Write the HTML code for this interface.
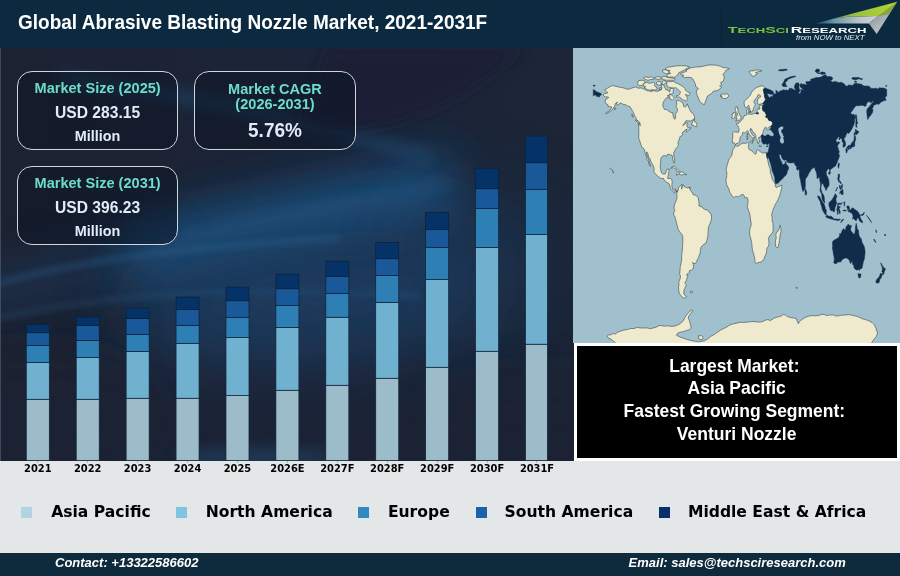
<!DOCTYPE html>
<html lang="en">
<head>
<meta charset="utf-8">
<title>Global Abrasive Blasting Nozzle Market, 2021-2031F</title>
<style>
html,body{margin:0;padding:0;background:#e3e7e8;}
body{width:900px;height:576px;overflow:hidden;position:relative;font-family:"Liberation Sans",Arial,sans-serif;}
#root{will-change:transform;position:absolute;left:0;top:0;width:900px;height:576px;overflow:hidden;background:#e3e7e8;}
#hdr{position:absolute;left:0;top:0;width:900px;height:48.5px;background:#0c2a3f;}
#title{position:absolute;left:18.0px;top:11.6px;font-size:19.0px;line-height:22px;font-weight:bold;color:#fff;white-space:nowrap;transform:scaleY(1.04);transform-origin:0 78.6%;}
#chart{position:absolute;left:0;top:48.3px;width:573.9px;height:412.3px;background:#1c2335;overflow:hidden;}
#chart svg{position:absolute;left:0;top:-48.3px;}
.box{position:absolute;box-sizing:border-box;border:1.35px solid #cdd5dd;border-radius:15px;background:rgba(12,20,36,0.5);text-align:center;font-weight:bold;white-space:nowrap;}
.box .t{color:#6ddcc8;font-size:14.55px;line-height:16px;transform:scaleY(1.04);transform-origin:50% 80%;position:absolute;left:0;right:0;}
.box .v{color:#e2ecf8;font-size:15.6px;transform:scaleY(1.06);transform-origin:50% 78%;line-height:18px;position:absolute;left:0;right:0;}
.box .m{color:#e2ecf8;font-size:14.4px;transform:scaleY(1.04);transform-origin:50% 78%;line-height:16px;position:absolute;left:0;right:0;}
#map{position:absolute;left:572.8px;top:48.3px;width:327.2px;height:295.2px;background:#a0c0cd;overflow:hidden;}
#map svg{position:absolute;left:-572.8px;top:-48.3px;}
#kbox{position:absolute;left:573.9px;top:342.9px;width:326.1px;height:118px;background:#fff;}
#kin{position:absolute;left:3.1px;top:3.1px;width:320.15px;height:111.8px;background:#000;color:#fff;font-weight:bold;font-size:17.5px;line-height:22.75px;text-align:center;white-space:nowrap;}
#kin div{position:absolute;left:-5.4px;right:0;margin-top:-1px;transform:scaleY(1.04);transform-origin:50% 75.4%;}
.xl{position:absolute;top:462.6px;width:60px;text-align:center;font-family:"DejaVu Sans",Verdana,sans-serif;font-weight:bold;font-size:9.9px;line-height:12px;color:#000;white-space:nowrap;}
.tk{position:absolute;top:460.8px;width:0.9px;height:2px;background:#aab3b8;}
.lsq{position:absolute;top:507px;width:11.0px;height:11.0px;}
.ltx{position:absolute;top:502.9px;font-family:"DejaVu Sans",Verdana,sans-serif;font-weight:bold;font-size:15.58px;line-height:18px;color:#000;white-space:nowrap;}
#ftr{position:absolute;left:0;top:552.6px;width:900px;height:23.4px;background:#0e2a3d;color:#fff;font-weight:bold;font-style:italic;font-size:13.0px;line-height:15px;white-space:nowrap;}
#ftr div{position:absolute;top:2.1px;transform:scaleY(1.04);transform-origin:0 78.7%;}
</style>
</head>
<body>
<div id="root">
  <div id="hdr">
    <div id="title">Global Abrasive Blasting Nozzle Market, 2021-2031F</div>
    <div style="position:absolute;left:720.6px;top:5px;width:1px;height:40px;background:rgba(4,14,24,0.3)"></div>
    <svg id="logo" width="200" height="48.5" viewBox="700 0 200 48.5" style="position:absolute;left:700px;top:0">
      <defs>
        <linearGradient id="lg1" gradientUnits="userSpaceOnUse" x1="816" y1="0" x2="878" y2="0"><stop offset="0" stop-color="#2f6a86" stop-opacity="0.6"/><stop offset="0.3" stop-color="#6d97aa"/><stop offset="0.7" stop-color="#b9c4c9"/><stop offset="1" stop-color="#d3d6d6"/></linearGradient>
        <linearGradient id="lg2" gradientUnits="userSpaceOnUse" x1="831" y1="0" x2="897" y2="0"><stop offset="0" stop-color="#5f9a6a" stop-opacity="0.8"/><stop offset="0.3" stop-color="#93bf45"/><stop offset="0.7" stop-color="#a9cb39"/><stop offset="1" stop-color="#b2d235"/></linearGradient>
        <linearGradient id="lg3" gradientUnits="userSpaceOnUse" x1="872" y1="14" x2="884" y2="32"><stop offset="0" stop-color="#8e989e"/><stop offset="1" stop-color="#c3c7c9"/></linearGradient>
      </defs>
      <polygon points="815.6,23.4 833.3,18.7 847.8,16.7 877.8,16.1 868.9,23.4" fill="url(#lg1)"/>
      <polygon points="831,19.3 897.2,1.7 888.9,13.3 877.8,16.1 847.8,16.7" fill="url(#lg2)"/>
      <polygon points="868.9,23.4 877.8,16.1 888.9,13.3 897.2,1.7 876.7,33.9" fill="url(#lg3)"/>
      <polygon points="877.8,16.1 897.2,1.7 888.3,14.2" fill="#89a63b"/>
      <g font-family="'Liberation Sans',Arial,sans-serif" font-weight="bold">
        <text transform="translate(727.8,32.5) scale(1.66,1)" fill="#7ec242"><tspan font-size="9.6">T</tspan><tspan font-size="7.9">ECH</tspan><tspan font-size="9.6">S</tspan><tspan font-size="7.9">CI</tspan></text>
        <text transform="translate(790.8,32.5) scale(1.66,1)" fill="#ffffff"><tspan font-size="9.6">R</tspan><tspan font-size="7.9">ESEARCH</tspan></text>
      </g>
      <text x="796" y="39.6" font-family="'Liberation Sans',Arial,sans-serif" font-style="italic" font-size="7.3" fill="#e8eef2" textLength="68.5" lengthAdjust="spacingAndGlyphs">from NOW to NEXT</text>
    </svg>
  </div>

  <div id="chart">
    <svg width="574" height="461" viewBox="0 0 574 461">
      <defs>
        <filter id="b40" filterUnits="userSpaceOnUse" x="-300" y="-300" width="1200" height="1100"><feGaussianBlur stdDeviation="38"/></filter>
        <filter id="b22" filterUnits="userSpaceOnUse" x="-300" y="-300" width="1200" height="1100"><feGaussianBlur stdDeviation="22"/></filter>
        <filter id="b8" filterUnits="userSpaceOnUse" x="-300" y="-300" width="1200" height="1100"><feGaussianBlur stdDeviation="7"/></filter>
        <filter id="b3" filterUnits="userSpaceOnUse" x="-300" y="-300" width="1200" height="1100"><feGaussianBlur stdDeviation="3"/></filter>
        <linearGradient id="bdk" x1="0" y1="0" x2="0" y2="1"><stop offset="0" stop-color="#1b2234" stop-opacity="0"/><stop offset="0.45" stop-color="#1b2234" stop-opacity="0.6"/><stop offset="1" stop-color="#1b2234" stop-opacity="0.75"/></linearGradient><linearGradient id="bgl" x1="0" y1="0" x2="1" y2="0"><stop offset="0" stop-color="#1c2232"/><stop offset="0.55" stop-color="#1b2438"/><stop offset="1" stop-color="#1c2637"/></linearGradient>
      </defs>
      <rect x="0" y="48" width="574" height="413" fill="url(#bgl)"/>
      <g>
        <path d="M130 258 C 230 236, 340 212, 455 186" fill="none" stroke="#1c4b76" stroke-width="66" opacity="1" filter="url(#b22)"/><path d="M-40 296 C 40 280, 100 266, 170 250" fill="none" stroke="#1e4166" stroke-width="34" opacity="0.55" filter="url(#b22)"/>
        <ellipse cx="315" cy="296" rx="190" ry="62" transform="rotate(-6 315 296)" fill="#1d4166" opacity="0.85" filter="url(#b40)"/>
        <ellipse cx="480" cy="250" rx="70" ry="60" fill="#1d385a" opacity="0.45" filter="url(#b40)"/>
        <path d="M60 78 C 180 93, 300 118, 430 158" fill="none" stroke="#245580" stroke-width="11" opacity="0.5" filter="url(#b8)"/>
        <path d="M-10 286 C 90 256, 210 246, 340 238" fill="none" stroke="#2c6c98" stroke-width="3.5" opacity="0.55" filter="url(#b3)"/>
        <path d="M-10 320 C 110 292, 250 286, 420 296" fill="none" stroke="#2a648e" stroke-width="3.5" opacity="0.4" filter="url(#b3)"/>
        <path d="M180 238 C 280 214, 380 196, 450 184" fill="none" stroke="#2a6a98" stroke-width="5" opacity="0.4" filter="url(#b8)"/>
        <path d="M330 48 L 522 48 C 480 88, 425 120, 365 128 C 350 130, 338 128, 300 124 Z" fill="#1b1d34" opacity="0.75" filter="url(#b8)"/>
        <ellipse cx="540" cy="430" rx="130" ry="50" fill="#1b2133" opacity="0.9" filter="url(#b22)"/>
        <ellipse cx="40" cy="420" rx="120" ry="65" fill="#1b2133" opacity="0.9" filter="url(#b22)"/>
        <rect x="-20" y="352" width="620" height="130" fill="url(#bdk)"/><ellipse cx="255" cy="457" rx="80" ry="9" fill="#21486c" opacity="0.6" filter="url(#b8)"/>
      </g>
      <rect x="0" y="48" width="0.9" height="413" fill="#4a5364" opacity="0.9"/>
      <g shape-rendering="auto">
      <rect x="26.30" y="399.25" width="23.0" height="61.35" fill="#9cbcc9" stroke="#0e2238" stroke-width="0.7"/><rect x="26.30" y="362.50" width="23.0" height="36.75" fill="#70b1d0" stroke="#0e2238" stroke-width="0.7"/><rect x="26.30" y="345.50" width="23.0" height="17.00" fill="#2e80b4" stroke="#0e2238" stroke-width="0.7"/><rect x="26.30" y="332.75" width="23.0" height="12.75" fill="#19599a" stroke="#0e2238" stroke-width="0.7"/><rect x="26.30" y="324.60" width="23.0" height="8.15" fill="#053267" stroke="#0e2238" stroke-width="0.7"/><rect x="76.22" y="399.25" width="23.0" height="61.35" fill="#9cbcc9" stroke="#0e2238" stroke-width="0.7"/><rect x="76.22" y="357.50" width="23.0" height="41.75" fill="#70b1d0" stroke="#0e2238" stroke-width="0.7"/><rect x="76.22" y="340.50" width="23.0" height="17.00" fill="#2e80b4" stroke="#0e2238" stroke-width="0.7"/><rect x="76.22" y="325.50" width="23.0" height="15.00" fill="#19599a" stroke="#0e2238" stroke-width="0.7"/><rect x="76.22" y="317.00" width="23.0" height="8.50" fill="#053267" stroke="#0e2238" stroke-width="0.7"/><rect x="126.14" y="398.25" width="23.0" height="62.35" fill="#9cbcc9" stroke="#0e2238" stroke-width="0.7"/><rect x="126.14" y="351.40" width="23.0" height="46.85" fill="#70b1d0" stroke="#0e2238" stroke-width="0.7"/><rect x="126.14" y="334.50" width="23.0" height="16.90" fill="#2e80b4" stroke="#0e2238" stroke-width="0.7"/><rect x="126.14" y="318.50" width="23.0" height="16.00" fill="#19599a" stroke="#0e2238" stroke-width="0.7"/><rect x="126.14" y="308.00" width="23.0" height="10.50" fill="#053267" stroke="#0e2238" stroke-width="0.7"/><rect x="176.06" y="398.25" width="23.0" height="62.35" fill="#9cbcc9" stroke="#0e2238" stroke-width="0.7"/><rect x="176.06" y="343.30" width="23.0" height="54.95" fill="#70b1d0" stroke="#0e2238" stroke-width="0.7"/><rect x="176.06" y="325.50" width="23.0" height="17.80" fill="#2e80b4" stroke="#0e2238" stroke-width="0.7"/><rect x="176.06" y="309.50" width="23.0" height="16.00" fill="#19599a" stroke="#0e2238" stroke-width="0.7"/><rect x="176.06" y="297.00" width="23.0" height="12.50" fill="#053267" stroke="#0e2238" stroke-width="0.7"/><rect x="225.98" y="395.50" width="23.0" height="65.10" fill="#9cbcc9" stroke="#0e2238" stroke-width="0.7"/><rect x="225.98" y="337.50" width="23.0" height="58.00" fill="#70b1d0" stroke="#0e2238" stroke-width="0.7"/><rect x="225.98" y="317.50" width="23.0" height="20.00" fill="#2e80b4" stroke="#0e2238" stroke-width="0.7"/><rect x="225.98" y="300.75" width="23.0" height="16.75" fill="#19599a" stroke="#0e2238" stroke-width="0.7"/><rect x="225.98" y="287.00" width="23.0" height="13.75" fill="#053267" stroke="#0e2238" stroke-width="0.7"/><rect x="275.90" y="390.25" width="23.0" height="70.35" fill="#9cbcc9" stroke="#0e2238" stroke-width="0.7"/><rect x="275.90" y="327.40" width="23.0" height="62.85" fill="#70b1d0" stroke="#0e2238" stroke-width="0.7"/><rect x="275.90" y="305.50" width="23.0" height="21.90" fill="#2e80b4" stroke="#0e2238" stroke-width="0.7"/><rect x="275.90" y="288.75" width="23.0" height="16.75" fill="#19599a" stroke="#0e2238" stroke-width="0.7"/><rect x="275.90" y="274.00" width="23.0" height="14.75" fill="#053267" stroke="#0e2238" stroke-width="0.7"/><rect x="325.82" y="385.25" width="23.0" height="75.35" fill="#9cbcc9" stroke="#0e2238" stroke-width="0.7"/><rect x="325.82" y="317.25" width="23.0" height="68.00" fill="#70b1d0" stroke="#0e2238" stroke-width="0.7"/><rect x="325.82" y="293.50" width="23.0" height="23.75" fill="#2e80b4" stroke="#0e2238" stroke-width="0.7"/><rect x="325.82" y="276.50" width="23.0" height="17.00" fill="#19599a" stroke="#0e2238" stroke-width="0.7"/><rect x="325.82" y="261.25" width="23.0" height="15.25" fill="#053267" stroke="#0e2238" stroke-width="0.7"/><rect x="375.74" y="378.25" width="23.0" height="82.35" fill="#9cbcc9" stroke="#0e2238" stroke-width="0.7"/><rect x="375.74" y="302.50" width="23.0" height="75.75" fill="#70b1d0" stroke="#0e2238" stroke-width="0.7"/><rect x="375.74" y="275.50" width="23.0" height="27.00" fill="#2e80b4" stroke="#0e2238" stroke-width="0.7"/><rect x="375.74" y="258.75" width="23.0" height="16.75" fill="#19599a" stroke="#0e2238" stroke-width="0.7"/><rect x="375.74" y="242.50" width="23.0" height="16.25" fill="#053267" stroke="#0e2238" stroke-width="0.7"/><rect x="425.66" y="367.25" width="23.0" height="93.35" fill="#9cbcc9" stroke="#0e2238" stroke-width="0.7"/><rect x="425.66" y="279.50" width="23.0" height="87.75" fill="#70b1d0" stroke="#0e2238" stroke-width="0.7"/><rect x="425.66" y="247.40" width="23.0" height="32.10" fill="#2e80b4" stroke="#0e2238" stroke-width="0.7"/><rect x="425.66" y="229.50" width="23.0" height="17.90" fill="#19599a" stroke="#0e2238" stroke-width="0.7"/><rect x="425.66" y="212.30" width="23.0" height="17.20" fill="#053267" stroke="#0e2238" stroke-width="0.7"/><rect x="475.58" y="351.25" width="23.0" height="109.35" fill="#9cbcc9" stroke="#0e2238" stroke-width="0.7"/><rect x="475.58" y="247.40" width="23.0" height="103.85" fill="#70b1d0" stroke="#0e2238" stroke-width="0.7"/><rect x="475.58" y="208.40" width="23.0" height="39.00" fill="#2e80b4" stroke="#0e2238" stroke-width="0.7"/><rect x="475.58" y="188.75" width="23.0" height="19.65" fill="#19599a" stroke="#0e2238" stroke-width="0.7"/><rect x="475.58" y="168.25" width="23.0" height="20.50" fill="#053267" stroke="#0e2238" stroke-width="0.7"/><rect x="525.50" y="344.20" width="21.9" height="116.40" fill="#9cbcc9" stroke="#0e2238" stroke-width="0.7"/><rect x="525.50" y="234.40" width="21.9" height="109.80" fill="#70b1d0" stroke="#0e2238" stroke-width="0.7"/><rect x="525.50" y="189.50" width="21.9" height="44.90" fill="#2e80b4" stroke="#0e2238" stroke-width="0.7"/><rect x="525.50" y="162.75" width="21.9" height="26.75" fill="#19599a" stroke="#0e2238" stroke-width="0.7"/><rect x="525.50" y="136.00" width="21.9" height="26.75" fill="#053267" stroke="#0e2238" stroke-width="0.7"/>
      </g>
    </svg>
    <div class="box" style="left:16.8px;top:22.6px;width:161.6px;height:79px;">
      <div class="t" style="top:8.2px">Market Size (2025)</div>
      <div class="v" style="top:32.3px">USD 283.15</div>
      <div class="m" style="top:56px">Million</div>
    </div>
    <div class="box" style="left:193.8px;top:22.6px;width:162.4px;height:79px;">
      <div class="t" style="top:8.7px">Market CAGR</div>
      <div class="t" style="top:24.6px">(2026-2031)</div>
      <div class="v" style="top:48.6px;font-size:19px;line-height:22px">5.76%</div>
    </div>
    <div class="box" style="left:16.8px;top:117.6px;width:161.6px;height:79px;">
      <div class="t" style="top:8.2px">Market Size (2031)</div>
      <div class="v" style="top:32.3px">USD 396.23</div>
      <div class="m" style="top:56px">Million</div>
    </div>
  </div>

  <div id="map">
    <svg width="900" height="576" viewBox="0 0 900 576"><path d="M603.0 95.1L604.3 93.6L606.3 93.4L607.9 92.7L606.3 91.4L604.7 90.2L607.1 88.5L609.6 86.9L612.4 85.5L616.1 86.4L619.4 87.2L622.6 87.7L625.1 88.4L628.3 89.4L630.8 88.5L634.0 87.4L635.7 86.9L638.1 88.2L641.4 88.0L644.6 89.4L647.1 90.6L650.3 91.1L652.0 91.9L652.0 90.1L655.2 91.1L657.7 91.4L660.1 90.2L660.9 88.5L662.1 87.7L661.3 85.2L663.0 84.4L664.2 86.0L665.0 88.2L666.2 90.1L667.4 89.4L668.3 91.1L669.9 91.9L670.3 88.5L672.7 88.2L673.7 89.9L672.9 91.9L673.6 92.7L671.5 93.9L669.5 93.9L669.1 95.6L667.4 95.6L668.7 97.3L666.6 97.8L664.6 100.0L663.4 102.0L662.8 104.5L663.0 106.7L664.6 109.5L666.6 109.5L668.7 111.2L670.7 112.4L672.7 112.5L673.2 116.2L674.0 118.7L675.0 119.1L675.8 117.1L675.4 114.2L677.2 111.7L677.5 108.7L676.0 106.5L676.8 104.1L676.4 100.6L678.5 100.6L680.5 101.1L682.1 102.8L683.2 103.6L683.5 106.2L685.0 107.3L686.2 106.2L687.3 103.8L688.6 107.0L689.9 110.0L691.1 112.0L693.1 113.7L694.5 116.2L694.6 117.9L693.5 118.9L691.9 120.7L689.9 121.1L687.8 120.7L685.8 120.9L684.6 122.9L682.9 125.8L684.6 123.8L687.0 122.6L687.6 123.8L686.6 125.1L687.3 126.8L688.2 128.0L689.9 128.1L691.1 127.6L690.7 128.8L688.2 130.3L686.6 132.2L686.2 130.5L687.4 129.0L685.8 129.5L685.2 130.3L683.8 131.3L682.8 132.0L682.3 133.5L682.8 135.0L681.7 135.7L679.8 136.7L679.6 138.4L678.9 140.0L678.3 141.7L677.9 143.2L678.4 145.4L677.4 146.9L676.0 148.4L674.8 150.6L673.8 152.6L673.6 154.8L674.3 157.8L674.7 160.7L674.5 162.8L673.8 162.7L673.2 160.3L672.5 158.5L672.6 156.5L671.5 154.8L670.3 155.1L669.1 154.1L667.6 154.3L667.0 156.1L665.8 156.0L664.2 155.3L662.6 156.1L660.9 158.1L660.6 161.5L660.3 165.7L660.3 168.2L660.8 170.7L661.6 172.9L662.6 173.9L663.8 174.2L665.2 173.9L666.1 172.4L666.3 169.9L667.9 169.0L669.1 169.0L668.8 171.6L668.5 174.1L668.0 175.8L667.6 178.4L668.7 178.6L670.3 178.4L671.9 179.6L672.1 182.5L671.8 185.8L672.1 187.8L672.9 189.7L674.0 190.3L675.0 189.2L676.0 189.3L676.9 190.5L676.9 192.4L676.2 191.3L675.2 190.2L674.5 191.3L674.6 192.9L673.6 192.4L672.5 191.3L671.8 190.2L670.5 188.7L670.1 186.7L669.1 184.1L668.4 183.0L667.0 182.5L665.6 181.6L664.3 180.1L663.4 178.3L662.1 178.6L660.9 178.4L659.5 177.4L658.1 176.6L656.8 175.1L655.5 173.9L654.2 172.4L653.9 170.6L654.2 168.7L653.4 166.2L652.2 163.8L650.9 161.8L650.5 159.8L649.5 158.1L648.5 156.5L648.0 154.0L647.2 152.3L646.4 151.9L646.5 154.3L647.6 156.8L648.3 159.0L649.2 161.5L649.9 164.0L650.7 166.2L650.2 166.4L648.9 164.0L648.5 161.5L646.9 159.3L646.6 156.8L645.6 154.5L644.8 151.8L644.4 149.8L643.4 148.1L641.8 147.2L640.7 144.2L640.1 141.9L639.1 139.2L638.7 137.2L638.8 134.7L638.8 131.3L638.9 127.6L638.3 124.1L639.7 124.3L640.2 125.8L640.0 122.9L638.5 121.2L636.5 119.6L635.8 117.4L634.4 115.4L633.8 113.2L632.6 111.2L631.2 108.7L629.9 106.5L627.9 106.2L626.0 104.8L623.8 104.5L621.8 103.6L620.2 102.8L618.9 104.5L617.3 105.3L616.5 103.1L617.7 102.3L615.8 103.1L614.9 105.3L614.2 107.0L612.6 109.0L611.0 110.9L609.2 112.0L607.4 113.0L605.7 113.7L607.1 112.0L609.2 110.9L610.8 109.2L611.8 107.0L610.4 106.7L608.1 106.5L607.8 104.5L605.9 103.6L605.1 102.0L605.7 99.4L607.5 98.6L608.8 97.4L607.1 96.8L605.1 96.9L603.9 95.8ZM680.5 73.8L683.8 75.5L682.1 76.3L684.6 77.6L687.8 77.3L691.1 77.6L692.7 78.8L693.9 81.0L695.2 83.5L695.6 86.4L697.6 87.7L698.4 89.1L696.4 90.2L696.4 92.7L697.2 95.3L698.4 98.1L699.6 101.1L700.9 102.8L702.9 104.1L704.4 104.6L704.9 103.6L705.4 101.1L706.6 98.9L707.4 96.1L709.4 94.8L711.5 93.6L713.5 91.1L717.2 90.6L719.2 89.4L721.7 87.4L719.6 86.0L721.7 84.4L720.4 82.7L723.3 81.0L724.1 78.5L724.1 76.0L722.9 74.3L725.3 71.8L725.7 70.4L729.4 68.8L727.0 67.9L722.9 67.6L720.4 66.2L715.5 65.1L709.0 64.9L703.3 66.2L699.2 66.9L695.2 67.1L691.1 67.8L688.6 68.9L685.8 70.1L687.0 70.9L684.6 72.1L681.3 73.0ZM676.9 190.5L677.5 191.7L678.4 189.2L678.7 187.2L679.7 186.3L680.9 185.3L681.6 184.3L682.0 185.8L681.5 187.5L681.7 189.2L682.5 186.0L683.1 184.6L684.2 186.7L685.8 187.3L687.4 188.0L689.0 187.2L689.9 188.7L690.5 190.7L691.7 191.7L692.7 193.7L693.5 195.0L695.2 195.0L696.4 195.7L697.6 197.1L698.3 198.1L698.8 201.7L699.2 204.3L698.8 205.9L700.5 205.9L700.9 206.8L702.5 207.1L703.7 209.0L704.5 209.3L706.2 210.0L707.4 209.8L708.6 211.5L709.8 213.1L711.2 214.0L711.6 217.2L711.3 220.2L710.2 222.9L709.4 225.2L708.4 226.9L708.2 230.3L708.0 234.4L707.6 237.8L706.7 240.7L705.9 243.2L704.5 243.7L703.3 245.0L702.1 245.9L700.9 247.5L700.4 250.4L700.2 253.1L699.2 255.4L698.4 257.9L697.4 259.6L696.5 261.8L695.3 263.5L693.9 263.5L692.5 262.3L693.4 264.6L693.5 266.6L692.9 269.2L691.5 270.2L689.5 270.5L689.2 273.2L688.0 274.2L687.0 273.7L687.0 275.9L688.0 276.5L686.8 278.0L686.6 280.6L685.1 281.9L685.0 283.4L686.4 284.8L685.4 286.9L684.6 288.9L683.8 290.3L684.2 292.8L683.3 293.1L684.2 294.0L685.0 295.7L686.6 296.8L685.8 297.7L684.2 298.2L682.5 297.3L681.3 296.0L680.1 294.5L679.1 292.6L678.7 289.8L678.5 286.4L679.3 283.9L678.5 283.1L679.4 280.6L680.2 278.6L680.5 275.5L679.7 274.7L679.9 271.8L680.2 268.8L680.1 267.5L680.7 265.1L681.3 262.1L681.7 259.6L681.6 256.2L681.9 253.7L682.2 251.2L682.5 247.9L682.6 244.5L682.9 241.2L682.8 237.8L682.6 235.8L681.8 234.3L680.5 232.8L678.9 230.8L677.9 228.6L677.6 226.9L677.1 225.2L676.6 223.2L676.0 220.7L675.2 218.0L674.8 216.3L673.8 215.2L673.7 212.6L674.5 211.0L674.9 209.6L674.1 208.8L674.1 206.8L674.6 205.1L674.8 203.4L675.7 202.6L676.0 200.7L676.8 199.2L677.0 196.7L676.8 194.2L676.9 192.4ZM735.2 145.1L736.3 146.1L738.0 146.1L739.2 145.6L740.4 144.4L742.4 143.2L744.5 143.4L746.1 143.1L748.0 142.5L749.0 143.1L748.4 144.4L748.7 146.4L748.3 147.7L749.0 149.3L750.2 150.1L751.8 150.6L752.6 151.8L754.3 153.4L755.5 154.3L756.3 153.1L756.5 150.9L757.5 149.9L758.7 150.4L760.4 151.8L762.0 152.4L763.6 153.3L764.9 152.3L766.1 152.6L766.4 154.0L766.6 155.0L766.7 157.3L767.4 159.0L768.0 161.5L768.5 164.0L769.0 166.0L770.0 168.2L770.3 170.2L770.4 173.2L771.2 174.6L772.0 178.3L772.6 179.9L773.8 181.6L774.8 183.3L775.3 184.5L775.2 185.8L776.1 187.5L777.5 187.0L779.1 186.3L780.8 185.6L781.8 185.1L781.7 187.5L781.2 190.0L780.4 193.4L779.5 196.2L778.3 198.9L777.1 201.4L775.9 203.4L774.6 205.9L773.8 208.1L773.0 209.6L772.6 211.3L772.0 213.1L771.6 215.5L772.2 217.2L772.0 219.4L772.4 221.9L773.0 223.2L773.0 226.1L773.2 229.4L772.9 231.9L771.8 233.6L770.2 235.0L768.9 237.3L768.4 238.6L768.9 241.2L768.9 244.5L768.1 246.7L766.8 248.2L766.7 250.4L766.4 253.2L765.5 255.1L764.7 257.1L763.6 259.6L762.4 261.1L761.0 262.1L759.6 262.3L757.9 262.5L756.3 263.5L755.1 262.6L754.8 260.1L754.7 258.3L754.0 255.7L753.5 253.2L752.5 250.4L752.1 247.0L751.8 243.3L751.2 240.3L750.2 236.6L749.6 234.4L749.6 231.6L750.2 227.7L751.1 225.7L751.2 223.2L750.6 220.2L750.2 216.8L749.9 214.8L749.4 212.6L748.3 210.1L747.3 207.3L747.6 205.1L747.9 203.1L748.0 200.4L747.7 198.6L747.1 197.4L745.9 197.7L744.9 197.9L744.1 195.7L743.3 194.5L742.0 194.5L741.0 195.0L740.0 195.7L738.8 196.7L737.7 196.7L736.7 196.4L735.5 196.5L733.9 197.7L732.7 196.7L731.4 194.7L730.6 193.5L729.6 192.0L729.2 190.0L728.6 188.3L727.8 187.0L726.5 184.5L726.3 182.5L725.8 180.4L726.5 178.3L726.7 175.8L726.9 173.2L726.4 170.7L726.1 169.4L726.7 167.4L727.1 165.2L727.9 163.2L728.3 161.0L729.4 158.6L730.6 157.3L731.8 155.6L732.1 153.6L732.4 150.9L733.5 148.9L734.5 147.7ZM780.2 225.2L780.9 228.6L781.1 231.6L780.4 233.6L779.9 237.0L779.5 240.3L778.9 244.0L778.3 247.0L776.9 247.9L775.9 246.7L775.4 243.3L775.5 240.8L776.2 238.3L775.9 234.4L776.5 232.3L777.9 231.4L779.0 229.4L779.5 227.2ZM765.1 88.0L763.2 86.0L761.0 85.9L758.7 86.7L756.3 87.7L754.3 89.4L752.6 90.7L751.4 92.7L750.2 95.3L748.8 96.9L747.3 98.6L745.7 99.8L744.2 101.1L744.1 103.3L744.5 105.8L745.3 107.5L746.5 107.7L747.7 106.3L748.6 105.3L749.1 106.5L749.5 108.2L750.2 110.0L750.4 112.0L751.6 112.2L752.1 111.0L753.2 110.3L753.6 108.3L753.9 106.7L755.1 105.5L755.2 104.1L754.0 102.8L754.3 100.6L755.3 99.1L756.7 97.8L757.5 96.1L758.1 94.8L759.6 94.8L760.7 95.8L760.4 96.9L759.2 98.1L757.6 99.4L757.4 101.5L757.5 103.1L758.6 104.5L760.4 104.1L762.0 103.6L762.7 103.6L764.0 102.0L765.7 99.6L764.6 96.9L764.3 94.4L763.8 91.9L763.3 89.4ZM762.8 105.3L761.6 105.2L760.0 105.3L759.2 106.0L759.2 107.2L759.9 107.5L759.8 109.0L758.9 109.5L758.3 108.3L757.5 108.8L757.1 110.3L757.1 112.0L756.3 113.2L755.7 113.9L755.1 113.2L753.9 113.4L752.2 114.4L751.2 114.4L750.2 113.9L749.0 114.5L748.2 113.9L748.0 112.9L748.6 111.4L748.8 109.5L748.4 108.5L746.9 109.3L746.6 111.2L746.7 112.9L747.1 114.5L746.5 115.2L745.3 115.4L744.1 115.7L743.5 117.6L742.9 118.9L741.6 119.6L741.3 120.4L740.2 121.8L739.0 122.1L738.7 123.4L737.6 123.3L736.2 123.8L736.5 124.9L737.8 125.6L738.5 127.1L739.0 128.8L738.9 131.3L738.5 132.3L737.1 132.2L735.5 132.0L733.9 131.8L732.5 132.8L732.8 135.0L732.8 137.5L732.3 140.0L732.7 143.1L733.9 142.7L734.8 143.4L735.4 144.7L736.3 143.6L738.0 143.4L738.8 142.4L739.6 141.0L740.2 140.0L739.8 138.9L740.4 136.8L741.6 135.8L742.6 134.8L742.4 132.7L743.5 132.2L744.5 132.7L745.5 132.7L746.4 131.6L747.3 130.6L748.3 131.5L748.6 133.2L749.6 134.7L750.4 135.8L751.4 136.7L752.4 137.9L752.9 138.9L753.2 140.0L752.8 141.4L753.5 140.9L753.9 139.7L753.5 138.5L753.9 137.2L754.7 138.0L755.1 137.7L754.5 136.7L753.0 135.3L753.0 134.8L752.2 134.7L751.4 133.5L751.0 132.0L750.2 131.0L750.0 129.1L751.1 128.5L751.2 129.6L751.8 129.3L752.4 130.8L753.0 132.2L754.3 133.0L755.2 134.3L755.8 135.2L755.9 136.8L756.1 138.4L756.9 139.7L757.3 140.9L757.3 142.0L757.8 143.4L758.3 143.7L758.7 142.4L758.9 141.4L759.6 141.7L759.6 140.9L758.7 139.4L758.6 137.5L759.4 138.0L759.8 136.8L760.8 136.5L761.2 136.8L761.4 135.2L762.8 134.7L762.6 133.5L763.2 132.0L763.5 130.1L764.2 129.1L764.7 128.0L765.7 127.0L766.5 127.8L767.3 128.0L766.6 129.0L767.3 130.3L768.5 129.8L769.8 129.1L768.7 128.3L768.5 127.6L769.3 126.8L770.2 126.3L771.2 126.1L772.4 124.8L772.6 122.1L771.4 121.4L770.2 120.6L768.9 120.4L768.0 118.7L767.7 117.4L766.1 117.6L765.7 116.2L766.6 115.2L765.4 112.9L764.9 111.5L763.2 111.0L762.5 109.0L762.4 107.5ZM735.8 121.2L737.1 120.7L738.8 120.1L740.4 119.9L741.1 119.2L740.7 118.6L741.4 116.7L740.2 116.2L740.0 115.0L739.0 113.5L738.5 111.9L737.8 111.2L738.4 108.7L737.1 108.3L737.4 106.8L735.9 106.8L735.1 108.7L735.5 110.9L736.1 112.0L736.0 113.2L737.3 113.2L737.6 115.2L736.5 115.7L736.6 117.1L735.8 118.2L737.4 118.9L736.3 119.6L735.8 121.2ZM731.8 118.2L733.5 118.6L734.9 117.6L735.1 115.4L735.4 113.5L734.7 112.5L733.5 112.5L733.1 113.9L731.8 114.2L732.3 115.9L731.8 118.2ZM720.2 95.3L722.1 93.7L723.7 94.4L725.3 94.1L727.0 93.6L728.0 94.3L728.8 96.1L727.8 97.3L724.9 98.8L722.9 98.1L721.6 97.9L722.1 96.6L720.4 96.3L721.8 95.8ZM750.2 141.4L752.6 141.0L752.4 143.6L750.6 142.5ZM746.8 136.3L747.8 136.3L747.8 139.4L746.9 139.7ZM747.0 134.0L747.7 133.0L747.7 135.5L747.2 135.3ZM759.2 145.6L761.4 146.1L760.2 146.6L759.2 146.1ZM749.0 71.8L751.0 74.3L752.2 76.0L754.3 76.5L755.5 74.6L757.5 73.8L755.5 72.6L757.9 71.8L762.0 70.8L759.6 70.1L756.3 69.9L753.0 70.9L750.6 70.9ZM749.0 111.9L750.3 111.2L750.1 112.5L749.1 112.5ZM670.8 168.4L671.9 166.9L673.2 166.2L674.4 166.4L675.6 167.4L676.8 168.5L678.2 169.9L679.5 171.2L678.5 171.7L676.8 171.7L676.6 170.6L675.8 169.0L674.4 168.4L673.2 167.5L671.9 168.0ZM679.3 174.2L680.2 171.9L681.6 171.9L682.9 172.1L684.2 173.7L683.3 174.4L682.1 174.6L681.6 175.4L680.5 174.6ZM676.2 174.2L677.8 174.6L677.3 175.2L676.3 174.9ZM685.2 174.1L686.4 174.2L686.4 174.9L685.2 174.9ZM691.7 125.1L693.1 125.3L694.8 126.3L696.5 126.8L697.0 125.3L696.5 123.6L696.0 122.1L694.5 121.6L694.3 119.9L694.8 118.6L693.7 119.6L693.0 121.2L692.3 122.9L691.7 124.1ZM635.4 120.1L636.9 120.4L638.1 121.2L639.2 123.3L639.4 123.9L638.3 123.6L637.3 122.4L635.8 120.9ZM631.6 114.4L632.6 114.5L633.0 117.4L632.1 116.2ZM614.1 108.7L615.8 107.8L615.7 109.0L614.5 109.8ZM687.3 99.4L685.8 101.1L684.6 100.3L682.5 99.8L680.9 98.1L679.3 96.9L676.8 97.3L676.2 95.8L678.5 95.3L679.7 94.1L680.5 91.9L678.9 90.2L676.8 88.5L675.6 87.7L673.2 88.0L670.7 87.7L668.7 87.2L667.0 86.0L666.6 83.9L667.0 82.3L669.1 81.3L670.7 81.7L672.7 81.3L674.4 82.0L676.0 83.0L678.0 83.5L680.1 84.9L682.1 86.0L683.8 87.2L685.0 88.5L685.4 90.2L687.8 91.9L689.5 92.7L689.9 93.9L688.6 95.6L687.0 94.9L685.4 94.4L686.6 96.4L687.4 98.3ZM644.4 87.9L646.3 88.9L647.9 89.9L650.3 90.1L652.8 89.7L654.8 90.1L656.8 89.4L657.3 88.0L655.6 86.9L654.4 85.5L654.8 83.5L653.2 82.2L651.1 83.0L648.7 83.2L646.7 82.3L644.2 83.0L643.2 84.7L643.8 86.0L645.8 86.9L644.2 87.2ZM637.7 84.4L639.7 85.7L642.2 85.4L643.8 83.9L645.4 82.2L644.2 80.7L641.4 80.2L638.5 80.7L637.7 82.7ZM666.6 76.8L669.1 77.0L672.3 77.0L674.8 77.3L676.4 76.0L678.0 74.3L678.9 72.6L681.3 71.6L684.6 69.8L687.0 68.4L689.5 67.1L686.2 65.9L681.3 65.7L676.4 65.9L671.5 66.7L666.6 67.6L665.0 68.9L667.4 70.1L669.9 70.4L669.1 71.8L670.7 73.5L668.3 74.0L667.0 75.5ZM661.7 78.8L664.2 79.8L667.4 80.2L670.7 80.2L674.0 80.2L675.2 79.3L674.4 78.2L671.5 78.0L668.3 77.6L665.4 76.6L662.1 76.8ZM662.6 71.8L665.8 73.8L669.1 73.1L668.7 71.3L665.8 69.8L662.6 70.1ZM644.6 79.0L647.9 80.3L650.7 79.5L653.6 79.3L653.8 77.8L651.6 76.8L648.7 77.6L645.4 76.8L643.8 77.6ZM655.2 78.8L659.3 79.5L660.9 78.5L660.1 76.8L656.8 76.8L654.8 77.6ZM656.4 84.4L658.5 84.9L660.9 85.2L661.3 83.2L660.1 81.3L657.7 81.7L656.4 82.7ZM662.1 84.4L663.8 84.4L666.2 82.7L665.8 81.0L663.4 80.8L662.1 81.8ZM669.1 98.6L670.7 99.1L672.3 100.3L674.0 98.6L674.5 98.1L673.6 96.9L671.9 95.3L670.3 94.4L669.1 95.6L669.9 97.3ZM658.9 89.4L660.9 90.1L662.1 89.1L660.9 87.7L659.3 88.0ZM690.3 291.5L691.9 291.1L692.9 291.6L691.9 292.8L690.5 292.6ZM612.8 171.2L613.6 172.1L613.2 173.2L612.8 172.2ZM611.0 168.9L611.4 169.2L611.2 169.5ZM612.3 169.9L612.8 170.2L612.5 170.6ZM609.8 167.9L610.1 168.0L610.0 168.4ZM796.1 287.3L797.3 287.6L797.1 288.4L796.2 288.3ZM689.6 187.2L690.3 187.2L690.3 188.2L689.6 188.2ZM607.1 336.2L608.3 335.1L611.2 334.7L612.8 333.6L615.3 333.9L617.7 332.2L620.2 331.2L623.4 330.2L627.5 329.5L630.8 328.5L634.0 328.5L637.3 327.4L640.5 328.0L643.8 328.0L647.1 327.9L650.3 328.7L653.6 327.9L656.8 326.9L658.5 325.8L660.9 325.5L664.2 326.2L667.4 325.8L670.7 326.3L674.0 326.2L676.4 325.5L678.4 324.7L680.5 323.3L682.5 321.7L684.2 319.1L685.1 317.1L686.6 314.9L688.2 312.9L689.9 311.3L691.5 310.1L692.7 310.4L691.9 312.1L690.3 313.8L689.0 315.8L688.2 318.0L689.2 320.1L689.9 322.5L690.7 325.5L691.1 328.0L689.5 329.7L687.4 330.2L683.8 331.5L680.5 332.2L678.0 332.9L676.4 335.2L679.7 336.9L683.8 338.3L688.6 339.9L692.9 340.9L698.4 341.8L704.1 340.9L708.2 338.6L710.7 336.4L712.7 335.4L715.5 333.6L718.0 331.9L720.4 330.2L723.7 328.5L726.1 327.4L728.6 325.8L731.0 324.5L733.5 323.8L736.7 323.2L740.0 322.2L743.3 322.5L746.5 322.2L749.8 321.8L753.0 321.5L756.3 321.8L759.6 322.2L762.8 321.5L765.3 320.3L767.7 319.5L770.2 320.5L772.2 319.6L774.2 318.0L777.5 317.1L780.8 316.3L783.2 314.6L785.7 315.1L787.3 316.6L790.5 317.5L793.8 318.0L796.2 318.5L797.1 320.8L798.3 323.7L799.5 321.7L801.1 320.1L803.6 318.5L806.0 317.1L808.5 316.3L811.7 315.6L815.0 315.8L818.3 315.6L821.5 314.4L824.0 314.4L826.4 315.6L829.7 315.1L832.9 314.8L836.2 316.1L839.5 315.6L842.7 315.1L846.0 314.9L849.2 314.6L852.5 315.4L855.8 316.1L859.0 317.1L862.3 318.8L865.5 319.6L868.8 320.8L872.1 322.5L874.5 325.0L876.1 328.4L877.5 333.4L876.1 336.7L873.7 339.6L871.2 343.5L870.4 356.0L617.7 356.0L616.1 343.5L611.2 339.3L607.9 337.6ZM698.4 335.9L701.7 335.6L703.1 337.6L701.7 339.8L698.7 338.9Z" fill="#efe9cd" stroke="#2a3a40" stroke-width="0.55" stroke-linejoin="round"/><path d="M765.1 88.0L766.9 88.7L769.3 89.4L771.4 90.6L773.2 91.6L773.6 93.4L772.6 94.3L771.2 94.4L768.9 93.7L767.1 93.2L767.3 94.4L768.4 96.1L768.4 97.1L770.2 97.8L770.8 96.3L772.4 96.9L773.0 94.8L774.2 93.7L775.9 94.1L776.1 92.2L775.7 90.4L777.5 91.1L777.9 92.9L779.1 91.6L781.2 90.7L783.6 89.7L785.2 90.2L786.9 89.9L788.5 90.6L789.5 88.2L791.8 88.5L793.0 89.2L794.6 89.9L796.0 89.7L794.6 88.2L794.5 86.0L795.8 83.2L798.3 82.7L799.3 84.4L798.9 86.5L799.2 89.1L800.2 90.2L798.7 92.7L798.3 93.7L800.3 93.2L801.1 91.6L800.6 89.7L802.4 89.6L803.6 91.6L803.2 89.4L800.3 86.9L799.9 85.2L801.1 83.2L802.4 84.5L804.0 84.0L805.6 84.7L807.3 84.7L805.9 83.0L805.9 81.8L808.5 81.5L810.9 81.0L810.7 79.3L813.4 78.5L816.2 77.6L818.7 77.6L821.1 77.0L822.7 76.0L825.0 74.8L826.4 75.5L826.8 76.8L828.9 76.5L831.3 76.8L832.8 78.0L832.1 79.7L829.5 81.0L831.7 81.3L832.5 82.2L834.2 81.5L836.6 81.8L838.6 82.7L840.7 82.2L842.7 83.0L844.8 84.4L845.6 86.0L847.2 86.2L848.4 85.0L850.9 85.2L852.9 85.4L854.1 83.7L854.9 83.2L857.4 83.5L859.4 83.9L861.9 84.2L862.3 85.2L864.3 86.0L866.8 86.0L869.2 86.2L870.4 87.7L870.4 88.4L872.5 88.4L874.5 88.5L876.8 88.2L878.2 89.4L879.0 87.7L881.0 88.0L883.5 88.0L885.5 88.7L886.7 89.6L886.7 96.1L885.8 96.8L884.7 96.9L885.5 98.6L886.2 100.3L884.3 100.5L882.1 101.6L880.2 102.8L878.8 104.5L877.0 103.8L875.3 104.8L873.7 105.0L873.1 107.5L872.1 108.2L873.0 110.3L872.3 112.9L870.8 114.9L870.3 116.1L869.2 116.4L868.6 118.2L867.7 119.6L867.3 117.1L866.9 113.7L866.8 110.3L867.7 108.3L868.8 107.5L870.0 105.7L871.7 103.8L873.3 101.8L873.7 100.3L872.1 101.8L870.7 103.1L870.3 101.6L868.0 101.8L865.9 104.8L866.4 105.8L864.6 106.3L863.3 105.5L861.9 105.2L859.0 105.7L856.2 105.7L854.5 107.3L853.3 109.2L852.1 110.9L850.5 112.9L851.5 113.7L851.9 115.0L853.1 114.2L854.0 114.5L855.1 115.9L855.2 117.6L854.6 119.6L854.5 122.1L854.1 124.1L853.1 126.3L852.1 128.5L850.9 130.6L849.6 132.5L848.4 133.5L847.6 132.7L846.6 133.8L845.8 135.5L845.6 136.7L844.3 138.0L843.9 139.0L844.6 140.4L845.4 142.2L845.6 144.7L845.2 146.1L844.1 146.9L843.1 147.4L843.0 145.6L843.3 143.6L842.9 142.0L841.9 141.7L842.1 140.4L841.9 138.7L841.3 138.2L840.3 138.7L839.0 139.9L839.0 138.5L839.6 137.2L838.6 136.5L837.4 138.4L836.2 139.4L835.9 140.5L836.8 141.9L837.3 142.7L838.4 141.7L839.8 142.5L838.9 143.7L838.1 144.7L837.3 146.1L838.0 147.6L838.5 149.8L839.3 151.8L838.6 154.0L839.5 155.1L839.1 157.3L838.2 159.5L837.5 161.5L836.8 163.3L836.0 164.9L835.0 166.5L833.7 167.0L832.8 167.7L831.7 168.7L830.5 169.2L830.0 170.9L829.5 170.7L829.3 168.9L828.3 168.7L827.2 169.9L826.4 171.6L826.2 173.2L826.8 175.4L827.6 177.1L828.5 178.9L829.0 181.6L829.1 184.1L828.9 185.8L827.9 187.0L827.1 188.0L826.8 189.2L825.8 190.5L825.4 188.7L825.2 187.7L824.4 187.3L823.8 185.5L823.2 184.1L822.3 183.8L821.9 182.5L821.5 182.8L821.5 185.0L820.9 187.0L820.9 189.3L821.5 190.8L821.9 192.9L822.8 193.7L823.6 195.0L824.1 196.7L824.4 198.7L824.4 200.6L824.9 202.8L824.4 202.9L823.6 201.7L822.6 200.4L822.1 198.6L821.8 195.9L821.7 194.2L820.7 192.0L820.1 191.2L820.1 189.2L820.5 186.7L820.5 184.1L820.0 181.6L819.6 179.1L819.6 177.4L818.7 177.1L817.8 178.6L816.9 178.3L817.0 175.8L816.6 173.6L816.1 171.6L815.3 170.2L815.0 168.7L814.6 167.0L813.8 167.7L812.6 168.5L811.1 169.2L810.5 171.2L809.3 172.2L808.5 174.1L807.3 176.6L806.0 178.3L805.4 179.4L805.3 182.5L805.4 185.0L805.1 187.8L804.6 189.5L803.7 190.3L803.2 191.7L802.4 190.3L802.0 187.8L801.3 185.0L800.9 182.5L800.5 179.9L799.8 177.4L799.4 174.1L799.3 171.9L799.3 169.9L798.9 168.9L797.9 170.2L797.1 169.9L796.2 167.7L797.2 166.9L796.1 166.0L795.0 164.9L794.4 162.7L792.6 162.8L790.5 163.0L788.9 162.7L787.3 162.2L786.5 160.3L785.7 159.7L784.4 160.5L783.2 159.8L782.1 158.3L781.4 156.5L780.8 154.6L779.8 154.3L779.1 155.1L779.4 156.8L779.9 158.6L780.8 160.3L780.9 161.8L781.4 163.2L781.7 161.3L782.1 163.2L782.0 164.3L782.8 164.5L784.0 164.7L785.2 162.8L785.9 161.0L786.1 163.5L786.9 165.0L787.9 165.9L788.7 167.5L788.1 169.9L787.3 171.1L787.0 173.2L786.1 174.9L785.0 176.1L783.6 177.3L782.6 178.8L780.8 180.3L779.5 181.6L778.3 183.0L776.8 183.6L775.5 183.8L775.2 182.5L774.9 179.9L774.8 177.4L774.0 175.2L773.3 173.2L772.2 170.7L771.8 168.2L771.1 165.2L770.4 163.2L769.8 161.0L768.8 158.5L768.4 157.5L768.5 155.6L768.0 158.1L767.7 158.5L767.1 157.0L766.6 155.0L766.4 154.0L766.4 152.8L767.3 152.9L768.0 152.4L768.5 150.6L768.8 148.6L769.3 146.4L769.3 144.4L769.5 143.4L768.5 143.6L767.6 144.4L766.5 144.6L765.3 143.4L764.7 144.2L763.6 144.1L762.8 143.6L762.3 142.5L761.5 140.9L761.8 139.4L761.4 138.9L761.4 137.9L761.2 136.8L761.4 135.2L762.8 134.7L763.8 136.0L765.5 136.0L767.1 134.7L768.7 134.7L769.8 135.8L771.4 136.3L772.9 136.3L773.9 135.3L773.7 133.5L772.6 132.2L771.5 130.8L770.5 130.0L770.0 129.1L771.0 128.0L770.8 127.0L771.2 126.1L772.4 124.8L772.6 122.1L771.4 121.4L770.2 120.6L768.9 120.4L768.0 118.7L767.7 117.4L766.1 117.6L765.7 116.2L766.6 115.2L765.4 112.9L764.9 111.5L763.2 111.0L762.5 109.0L762.4 107.5L762.8 105.3L764.0 104.6L764.5 104.6L763.4 103.8L762.7 103.6L764.0 102.0L765.7 99.6L764.6 96.9L764.3 94.4L763.8 91.9L763.3 89.4ZM593.3 89.6L594.5 90.2L595.3 90.7L596.9 91.9L599.0 92.7L600.6 93.2L601.6 94.3L601.0 95.1L599.8 95.6L599.5 97.1L598.2 96.6L596.5 96.4L596.3 95.3L594.5 94.9L593.7 95.6L593.3 96.1ZM885.5 85.9L886.7 85.2L886.7 86.2L885.8 86.4ZM593.3 85.2L594.9 85.2L595.2 86.0L593.3 86.2ZM782.0 85.2L783.2 86.5L784.8 86.5L786.9 86.7L785.7 84.4L785.2 82.3L786.9 81.0L788.1 79.3L789.7 78.5L792.6 77.6L795.8 76.6L795.4 76.0L793.0 76.3L789.7 77.1L787.3 78.2L785.2 79.0L784.0 81.3L783.2 83.0L782.2 84.0ZM817.4 72.6L819.9 73.0L821.5 72.1L824.8 72.3L825.6 73.8L821.5 74.5L820.7 73.5L817.9 73.5L815.8 71.8L815.0 70.9L816.6 69.1L819.1 69.3L819.9 70.9ZM851.7 78.7L854.1 79.7L856.6 79.5L859.0 78.8L861.9 79.7L862.7 78.8L860.6 78.5L859.0 77.6L854.9 77.5L852.5 77.6ZM854.1 81.8L856.2 82.3L857.0 81.8L855.4 81.0ZM778.3 70.4L781.6 70.9L784.8 70.6L787.3 70.1L786.5 69.1L782.4 69.4L779.1 69.8ZM855.8 114.2L856.6 115.7L856.8 118.7L857.2 122.1L857.9 122.9L856.6 124.6L856.9 126.8L856.3 127.6L855.8 126.3L855.8 123.4L855.9 120.4L855.6 117.9L855.6 115.5ZM854.1 135.5L854.9 135.2L855.1 133.8L856.7 134.7L857.8 133.0L858.7 132.5L858.4 131.1L857.4 131.1L856.3 130.0L855.6 129.0L855.4 130.8L855.2 132.7L854.4 132.7L854.0 133.8ZM846.7 148.1L847.6 148.2L848.8 147.4L850.1 147.1L850.2 148.8L850.9 148.9L851.5 147.2L852.1 147.1L853.1 146.9L854.0 146.4L854.8 145.9L854.6 143.9L854.9 141.7L855.4 140.5L855.8 138.5L855.4 137.0L855.3 135.7L854.4 136.0L854.1 138.0L854.0 140.0L853.1 141.7L851.9 142.4L851.7 143.2L851.0 144.2L850.7 145.4L849.6 145.4L848.4 145.6L847.6 146.6L846.8 147.4ZM845.8 149.4L846.7 148.2L847.4 149.4L847.2 151.4L846.8 152.8L846.2 152.9L846.1 151.1L845.7 150.3ZM848.0 148.4L849.2 147.6L849.8 148.4L849.2 149.1L848.4 150.1L847.9 149.4ZM839.1 162.8L839.4 164.0L839.0 166.5L838.5 168.4L838.0 166.9L838.0 165.2L838.6 163.2ZM828.6 172.7L829.3 171.6L830.3 171.6L830.5 172.4L829.9 174.1L829.1 174.4L828.6 173.7ZM805.1 188.8L805.5 189.2L806.3 190.8L806.7 192.9L806.5 194.4L805.7 195.2L805.2 194.5L805.1 192.5L805.1 190.8ZM838.3 174.1L839.4 174.2L839.7 176.6L839.1 178.3L839.2 180.3L839.9 181.3L841.0 182.0L841.2 184.0L840.5 183.3L839.9 182.3L839.2 181.8L838.4 181.8L838.3 180.4L837.8 179.4L837.7 177.9L838.2 176.9L838.2 175.6ZM839.5 193.4L840.1 192.0L840.7 190.7L841.7 190.7L842.3 188.8L843.0 190.8L843.2 192.9L842.9 194.5L842.5 195.0L842.2 193.5L841.2 194.7L840.9 192.9L840.1 192.7L839.5 193.5ZM839.5 185.3L840.4 185.8L840.4 187.5L840.8 188.5L841.1 187.5L841.5 185.8L842.3 184.1L842.5 186.3L842.1 188.0L841.5 188.3L840.5 189.7L839.9 188.5L839.5 187.5L839.4 186.1ZM835.5 191.0L836.6 189.2L837.5 187.0L837.3 188.0L836.6 189.8L835.8 191.2ZM828.9 202.6L829.7 202.2L830.7 200.9L832.1 199.7L833.3 197.6L834.2 196.2L835.1 193.7L835.8 194.2L836.6 195.9L837.0 196.5L836.2 197.9L835.9 199.2L836.2 201.4L836.9 203.4L836.0 203.9L835.8 206.3L835.0 207.6L834.8 209.8L834.6 211.5L833.5 212.0L832.5 210.6L831.3 210.8L830.2 210.0L829.7 207.6L829.0 205.9L828.9 204.3ZM817.7 195.7L818.7 196.4L819.6 196.4L820.5 198.4L821.5 200.4L822.2 201.6L823.2 202.9L824.2 204.3L824.6 205.6L825.1 207.1L825.4 209.0L826.4 210.1L826.2 212.6L826.2 214.8L825.3 214.7L824.6 213.5L823.4 211.8L822.3 209.6L821.8 207.1L820.9 204.6L820.5 202.2L819.6 200.4L818.6 198.7L817.8 197.1ZM825.8 216.5L826.6 215.2L827.6 215.3L828.6 216.3L830.1 216.2L830.9 216.2L832.0 216.7L833.2 218.0L833.3 219.5L832.1 219.2L830.9 219.0L829.7 218.5L828.4 218.2L827.2 217.8L826.4 217.3ZM833.7 218.7L835.0 219.0L836.2 219.0L837.4 219.2L838.6 219.2L840.1 219.0L840.3 219.7L839.0 220.2L837.4 220.7L836.2 220.0L835.0 220.0L833.7 219.7ZM840.7 222.4L841.5 220.7L842.3 219.5L843.5 219.2L843.1 220.2L841.9 221.5L841.1 222.4ZM837.6 203.8L838.5 202.9L839.9 203.4L841.1 203.4L842.1 202.4L841.7 203.9L840.7 204.6L839.3 204.4L838.2 204.6L838.0 206.4L838.9 206.6L840.1 206.4L840.5 206.8L839.5 208.0L839.0 208.5L839.7 210.1L840.3 212.1L839.9 214.0L839.3 212.8L838.9 211.0L838.6 209.6L838.1 210.1L838.2 212.6L838.1 214.3L837.4 214.3L837.4 211.8L837.0 210.6L836.8 209.5L837.3 207.6L837.7 205.4ZM843.9 202.1L844.3 201.6L844.9 202.6L844.6 204.3L844.3 206.3L844.0 204.6ZM842.7 210.5L844.3 210.0L846.4 210.3L846.4 211.1L845.2 210.8L843.9 211.1ZM846.8 206.4L848.0 205.8L849.2 206.4L849.4 209.0L850.2 210.6L851.3 208.8L852.5 207.8L853.7 208.6L854.9 209.5L856.4 210.6L857.8 211.5L858.9 213.3L859.7 214.8L860.5 215.3L860.0 216.5L860.6 218.5L861.7 220.2L862.9 222.4L861.9 222.5L860.6 222.0L859.7 220.9L858.6 218.5L857.6 217.8L856.8 219.0L856.6 220.4L855.4 220.5L854.3 219.0L853.3 218.5L852.5 219.2L853.1 216.8L852.7 214.5L851.5 213.0L850.3 212.5L849.1 211.6L848.4 212.0L848.2 210.8L849.0 210.1L848.7 209.3L847.6 209.8L847.4 208.1L846.8 207.4ZM860.9 214.7L862.3 214.3L863.5 213.5L864.2 212.1L864.0 213.8L863.1 215.2L861.9 215.7ZM866.4 215.2L867.6 216.8L868.8 218.5L870.4 221.0L871.7 222.7L871.2 221.9L870.0 219.7L868.4 217.5ZM875.7 229.9L876.4 230.8L876.5 232.8L876.1 231.9ZM873.7 239.0L874.9 240.3L876.1 242.5L875.3 242.0L874.1 240.3ZM884.5 234.4L885.5 234.4L885.6 235.6L884.6 235.6ZM832.5 242.0L832.9 241.2L834.2 240.0L835.4 239.5L837.0 238.6L838.6 237.8L839.7 235.3L839.6 233.6L840.7 233.9L841.5 232.3L842.3 230.3L843.5 228.6L844.6 229.9L845.6 229.9L845.8 227.7L846.6 225.9L847.6 225.6L848.0 224.1L849.2 225.2L850.5 225.4L851.5 225.6L850.9 227.7L850.5 229.9L851.5 231.6L852.9 233.3L854.1 234.6L854.9 232.8L855.4 229.4L855.5 226.6L856.2 223.2L856.8 226.1L857.2 229.1L858.4 230.1L858.6 232.8L859.2 236.1L860.2 237.6L861.3 239.1L862.0 242.3L862.9 244.0L864.2 246.5L864.8 249.0L865.1 252.4L864.7 256.2L864.3 259.3L863.3 261.8L862.9 264.1L862.3 266.8L862.1 268.2L860.6 268.7L859.3 270.5L858.2 269.3L857.0 270.2L855.4 269.3L854.1 268.0L853.7 265.1L852.7 264.6L852.5 262.6L852.3 260.4L851.7 261.8L850.9 263.5L850.3 263.0L849.4 260.4L848.0 258.8L846.6 258.1L845.2 258.1L843.1 259.1L841.5 260.4L840.7 262.0L839.0 262.0L837.7 262.1L836.2 263.8L834.6 263.5L833.7 262.6L834.2 260.4L834.3 257.9L833.7 255.4L833.3 252.9L832.9 250.4L832.4 248.4L832.7 246.2L832.5 243.7ZM858.0 273.4L859.3 274.0L860.8 273.7L860.9 275.9L860.2 277.7L859.0 278.0L858.4 276.4ZM880.8 262.8L881.8 264.3L882.5 266.8L883.3 266.6L883.6 268.2L885.1 268.2L885.5 268.8L884.7 270.8L884.3 271.7L883.7 273.9L882.9 274.9L882.4 274.4L882.7 272.7L881.8 271.3L882.4 270.2L882.3 268.0L881.8 266.1L881.0 264.1ZM880.9 273.0L881.7 273.9L882.1 275.2L881.3 277.2L880.8 278.6L879.6 279.4L879.4 281.9L878.4 283.1L877.2 283.1L875.9 282.4L876.1 280.6L877.1 279.1L878.6 277.5L879.6 275.9L880.2 273.9ZM766.3 146.4L767.3 145.9L768.2 145.4L767.7 146.4L766.9 147.1ZM756.1 113.9L758.5 113.9L758.5 112.7L757.1 112.4L756.2 113.0Z" fill="#0f2c4a" stroke="#0f2c4a" stroke-width="0.5" stroke-linejoin="round"/><path d="M778.3 128.8L779.5 127.5L780.8 126.8L782.0 126.4L783.2 126.6L783.2 129.1L782.0 129.3L781.7 130.5L781.0 130.6L781.6 132.7L782.8 133.5L782.8 135.3L783.9 136.3L783.2 138.0L783.8 139.7L783.9 142.4L782.8 143.4L781.6 143.4L780.4 142.2L779.9 140.5L780.2 138.9L780.8 137.3L779.9 135.5L779.0 133.3L778.5 131.0Z" fill="#a0c0cd" stroke="none"/></svg>
  </div>

  <div id="kbox"><div id="kin">
    <div style="top:9.6px">Largest Market:</div>
    <div style="top:32.35px;margin-left:4.6px">Asia Pacific</div>
    <div style="top:55.1px">Fastest Growing Segment:</div>
    <div style="top:77.85px;margin-left:4.6px">Venturi Nozzle</div>
  </div></div>

  <div class="xl" style="left:7.8px">2021</div><div class="tk" style="left:37.2px"></div><div class="xl" style="left:57.7px">2022</div><div class="tk" style="left:87.1px"></div><div class="xl" style="left:107.6px">2023</div><div class="tk" style="left:137.0px"></div><div class="xl" style="left:157.6px">2024</div><div class="tk" style="left:187.0px"></div><div class="xl" style="left:207.5px">2025</div><div class="tk" style="left:236.9px"></div><div class="xl" style="left:257.4px">2026E</div><div class="tk" style="left:286.8px"></div><div class="xl" style="left:307.3px">2027F</div><div class="tk" style="left:336.7px"></div><div class="xl" style="left:357.2px">2028F</div><div class="tk" style="left:386.6px"></div><div class="xl" style="left:407.2px">2029F</div><div class="tk" style="left:436.6px"></div><div class="xl" style="left:457.1px">2030F</div><div class="tk" style="left:486.5px"></div><div class="xl" style="left:507.0px">2031F</div><div class="tk" style="left:536.4px"></div>
  <div class="lsq" style="left:21.0px;background:#b2d3e4"></div><div class="ltx" style="left:51.2px">Asia Pacific</div><div class="lsq" style="left:176px;background:#7fc4e3"></div><div class="ltx" style="left:205.7px">North America</div><div class="lsq" style="left:357.7px;background:#3089c1"></div><div class="ltx" style="left:387.9px">Europe</div><div class="lsq" style="left:476px;background:#1b62a8"></div><div class="ltx" style="left:504.6px">South America</div><div class="lsq" style="left:658.7px;background:#08306b"></div><div class="ltx" style="left:687.9px">Middle East & Africa</div>

  <div id="ftr">
    <div style="left:55px">Contact: +13322586602</div>
    <div style="left:628.6px">Email: sales@techsciresearch.com</div>
  </div>
</div>
</body>
</html>
